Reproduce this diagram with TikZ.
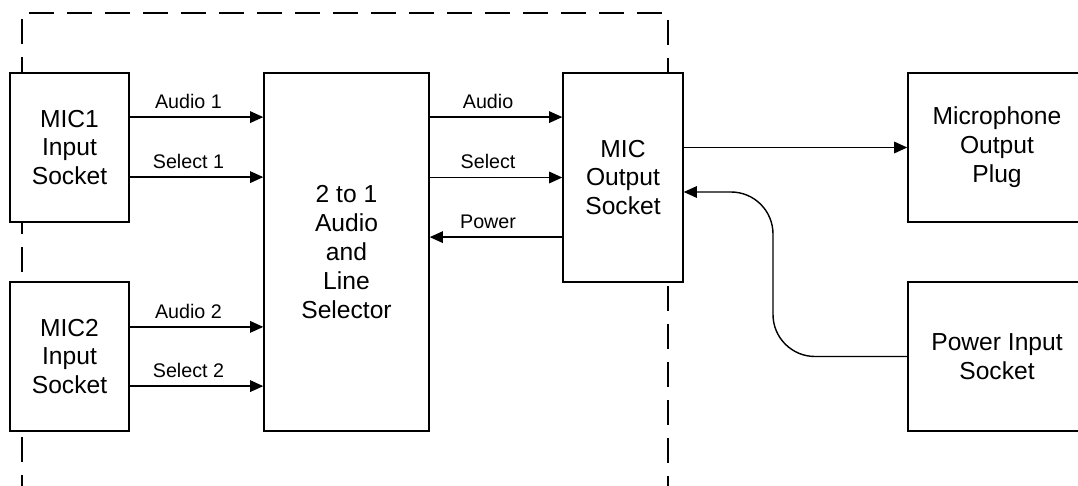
\documentclass[tikz,border=0pt]{standalone}
\usepackage{fontspec}
\setmainfont{Liberation Sans}
\usetikzlibrary{arrows.meta,positioning}
\tikzset{
  >={Triangle[length=3.3mm,width=2.9mm]},
  box/.style={draw,fill=white,line width=1pt,align=center,inner sep=0pt,
    font=\fontsize{17.5}{20.6}\selectfont},
  sig/.style={->,line width=1pt},
  tag/.style={font=\fontsize{14}{16}\selectfont,inner sep=0pt,above=5.5pt},
  frame/.style={line width=1.1pt,dash pattern=on 0.625cm off 0.325cm},
}
\begin{document}
\begin{tikzpicture}[x=0.025cm,y=-0.025cm]
  \useasboundingbox (0,0) rectangle (1078,486);
  % dashed enclosure
  \draw[frame] (22,500) |- (668,13) -- (668,500);
  % blocks
  \node[box,minimum width=2.975cm,minimum height=3.725cm] (mic1) at (69.5,147.5) {MIC1\\Input\\Socket};
  \node[box,minimum width=2.975cm,minimum height=3.725cm] (mic2) at (69.5,356.5) {MIC2\\Input\\Socket};
  \node[box,minimum width=4.125cm,minimum height=8.95cm] (sel) at (346.5,252) {2 to 1\\Audio\\and\\Line\\Selector};
  \node[box,minimum width=3cm,minimum height=5.225cm] (out) at (623,177.5) {MIC\\Output\\Socket};
  \node[box,minimum width=4.45cm,minimum height=3.725cm] (plug) at (997,147.5) {Microphone\\Output\\Plug};
  \node[box,minimum width=4.45cm,minimum height=3.725cm] (pin) at (997,356.5) {Power Input\\Socket};
  % inputs
  \draw[sig] ([yshift=.76cm]mic1.east) -- node[tag,pos=.44]{Audio 1} ([yshift=.76cm]mic1.east -| sel.west);
  \draw[sig] ([yshift=-.74cm]mic1.east) -- node[tag,pos=.44]{Select 1} ([yshift=-.74cm]mic1.east -| sel.west);
  \draw[sig] ([yshift=.74cm]mic2.east) -- node[tag,pos=.44]{Audio 2} ([yshift=.74cm]mic2.east -| sel.west);
  \draw[sig] ([yshift=-.74cm]mic2.east) -- node[tag,pos=.44]{Select 2} ([yshift=-.74cm]mic2.east -| sel.west);
  % selector <-> output socket
  \draw[sig] ([yshift=1.51cm]out.west -| sel.east) -- node[tag,pos=.44]{Audio} ([yshift=1.51cm]out.west);
  \draw[sig] (out.west -| sel.east) -- node[tag,pos=.44]{Select} (out.west);
  \draw[sig] ([yshift=-1.49cm]out.west) -- node[tag,pos=.56]{Power} ([yshift=-1.49cm]out.west -| sel.east);
  % outside
  \draw[sig] (out.east |- plug.west) -- (plug.west);
  \coordinate (bend) at (773,192);
  \draw[sig,rounded corners=1.05cm] (pin.west) -| (bend) -- (bend -| out.east);
\end{tikzpicture}
\end{document}
